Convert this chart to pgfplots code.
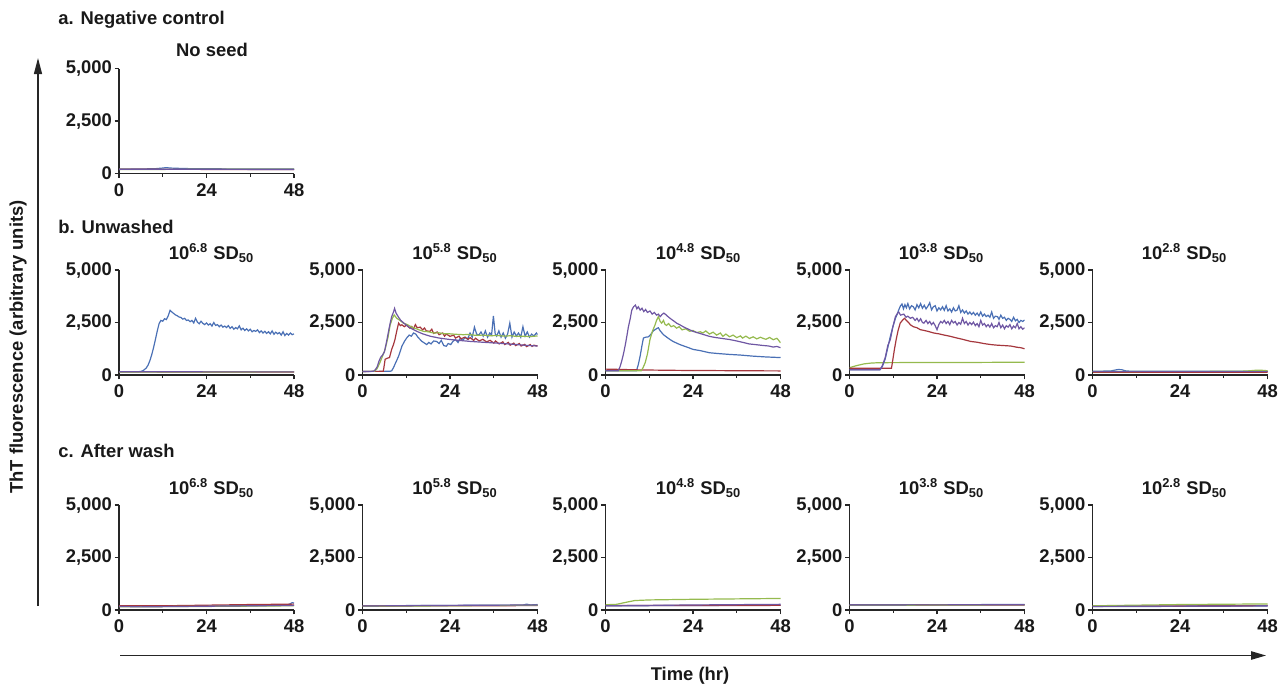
\documentclass[border=0pt]{standalone}
\usepackage{fontspec}
\setmainfont{Liberation Sans}
\usepackage{pgfplots}
\pgfplotsset{compat=1.18}
\usetikzlibrary{arrows.meta}

\definecolor{cB}{HTML}{4A70B5}
\definecolor{cR}{HTML}{A5373D}
\definecolor{cG}{HTML}{95BA4E}
\definecolor{cP}{HTML}{6F57A3}

\pgfplotsset{
  panel/.style={
    scale only axis, width=87.5pt, height=52.5pt, anchor=south west,
    xmin=0, xmax=48, ymin=0, ymax=5000,
    axis lines*=left,
    xtick={0,24,48}, xticklabels={0,24,48},
    minor xtick={12,36},
    ytick={0,2500,5000}, yticklabels={0,{2,500},{5,000}},
    tick align=outside, major tick length=2.2pt, minor tick length=1.5pt,
    axis line style={line width=0.7pt, black!85},
    every tick/.style={line width=0.6pt, black!85},
    tick label style={font=\bfseries\fontsize{9.2}{10}\selectfont, black!90},
    yticklabel style={xshift=2.2pt},
    xticklabel style={yshift=0.8pt},
    every axis plot/.append style={line width=0.6pt, mark=none},
  },
}

\begin{document}
\begin{tikzpicture}
\path[use as bounding box] (0,0) rectangle (640pt,-342.5pt);

% ---- a. negative control
\begin{axis}[panel, at={(59.5pt,-86.75pt)}]
\addplot[cB] coordinates {(0,210)(6,215)(10,230)(12,260)(13,280)(14,260)(18,235)(24,225)(36,215)(48,210)};
\addplot[cR] coordinates {(0,200)(24,195)(48,190)};
\addplot[cG] coordinates {(0,190)(24,200)(48,205)};
\addplot[cP] coordinates {(0,195)(12,205)(24,200)(36,195)(48,195)};
\end{axis}

% ---- b. unwashed, 10^6.8
\begin{axis}[panel, at={(59.5pt,-187.5pt)}]
\addplot[cB] coordinates {(0,150)(1,150)(2,155)(3,150)(4,150)(5,155)(5.5,160)(6,170)(6.5,200)(7,260)(7.5,340)(8,480)(8.5,700)(9,980)(9.5,1320)(10,1700)(10.5,2100)(11,2450)(11.5,2600)(12,2560)(12.5,2680)(13,2640)(13.5,2820)(14,3080)(14.5,3000)(15,2930)(15.5,2860)(16,2820)(16.5,2760)(17,2740)(17.5,2660)(18,2700)(18.5,2600)(19,2620)(19.5,2540)(20,2600)(20.5,2480)(21,2700)(21.5,2520)(22,2440)(22.5,2560)(23,2460)(23.5,2400)(24,2480)(24.5,2380)(25,2440)(25.5,2330)(26,2500)(26.5,2360)(27,2400)(27.5,2300)(28,2380)(28.5,2280)(29,2330)(29.5,2260)(30,2350)(30.5,2220)(31,2300)(31.5,2180)(32,2260)(32.5,2200)(33,2340)(33.5,2150)(34,2230)(34.5,2120)(35,2200)(35.5,2100)(36,2180)(36.5,2060)(37,2120)(37.5,2080)(38,2150)(38.5,2020)(39,2100)(39.5,2000)(40,2080)(40.5,1980)(41,2060)(41.5,1960)(42,2100)(42.5,1940)(43,2040)(43.5,1960)(44,2020)(44.5,1900)(45,2060)(45.5,1880)(46,1980)(46.5,1900)(47,2000)(47.5,1920)(48,1960)};
\addplot[cR] coordinates {(0,150)(24,145)(48,145)};
\addplot[cG] coordinates {(0,140)(24,145)(48,150)};
\addplot[cP] coordinates {(0,155)(24,150)(48,150)};
\end{axis}

% ---- b. unwashed, 10^5.8
\begin{axis}[panel, at={(181.25pt,-187.5pt)}]
\addplot[cB] coordinates {(0,170)(7.5,175)(8,200)(8.5,350)(8.9,510)(9.4,700)(9.9,900)(10.4,1150)(10.8,1370)(11.5,1600)(12.1,1760)(12.8,1900)(13.4,1850)(14,2000)(14.6,1950)(15.2,1800)(15.8,1690)(16.3,1600)(17,1520)(17.6,1450)(18.2,1550)(18.8,1480)(19.5,1620)(20.3,1600)(21,1500)(21.6,1650)(22.3,1400)(23,1370)(23.5,1500)(24.2,1450)(24.8,1600)(25.5,1690)(26.2,1550)(26.8,1750)(27.5,1650)(28.2,1800)(28.8,1700)(29.5,2000)(30.1,1800)(30.7,2280)(31.3,1950)(31.9,1900)(32.5,2050)(33.1,1850)(33.7,2100)(34.3,1800)(34.9,2000)(35.4,1900)(35.9,2810)(36.4,1950)(36.8,1850)(37.4,2100)(38,1800)(38.6,2000)(39.2,1750)(39.8,1950)(40.4,2470)(41,1800)(41.6,2050)(42.2,1850)(42.8,2000)(43.4,1800)(44,2300)(44.6,1850)(45.2,2050)(45.8,1800)(46.4,1950)(47,1850)(47.7,2000)(48,1920)};
\addplot[cR] coordinates {(0,170)(5.7,175)(6.0,500)(6.2,750)(6.8,800)(7.4,830)(8,1220)(8.5,1450)(8.9,1690)(9.4,2100)(9.9,2470)(10.4,2350)(10.8,2390)(11.5,2300)(12,2380)(13,2230)(13.5,2310)(14,2200)(14.5,2400)(15,2250)(15.8,2280)(16.5,2150)(17,2240)(17.5,2100)(18.5,2080)(19,2180)(19.5,1980)(20.5,2050)(21,1920)(22,2000)(22.5,1850)(23,1950)(24,1840)(25,1900)(25.5,1760)(26.5,1850)(27,1720)(28,1800)(29,1700)(29.5,1780)(30.5,1650)(31,1750)(32,1620)(33,1700)(34,1580)(35,1650)(36,1520)(36.5,1620)(37.5,1480)(38.5,1580)(39,1450)(40,1550)(40.5,1420)(41.5,1520)(42,1400)(43,1500)(43.5,1380)(44.5,1460)(45,1350)(46,1450)(46.5,1360)(47,1420)(48,1380)};
\addplot[cG] coordinates {(0,170)(3.3,175)(4,300)(4.8,600)(5.5,900)(6.2,1220)(7,1800)(7.6,2390)(8.2,2700)(8.7,2860)(9.4,2700)(10.3,2600)(11.2,2470)(12.3,2400)(13.5,2280)(14.5,2220)(15.5,2150)(16.7,2080)(18,2060)(19.5,2000)(21,2010)(22.2,1970)(24,1960)(25.5,1940)(27.6,1920)(29,1930)(31,1890)(33,1900)(35,1870)(37,1880)(39,1850)(40.5,1870)(42.2,1840)(44,1850)(46,1830)(48,1860)};
\addplot[cP] coordinates {(0,170)(3,175)(3.5,250)(4,380)(4.5,650)(5,850)(5.5,950)(6,1100)(6.5,1500)(7,1950)(7.5,2400)(8,2780)(8.5,3000)(8.8,3170)(9.2,2950)(9.9,2750)(10.5,2600)(11.7,2420)(13,2250)(14.9,2080)(16.5,1960)(18.5,1850)(21,1760)(24,1690)(27,1640)(29.5,1600)(33,1560)(36.8,1520)(40,1480)(42.2,1450)(45,1410)(48,1380)};
\end{axis}

% ---- b. unwashed, 10^4.8
\begin{axis}[panel, at={(302.75pt,-187.5pt)}]
\addplot[cB] coordinates {(0,200)(8.5,205)(9,500)(9.5,900)(10,1400)(10.4,1760)(11,1800)(11.8,1820)(12.5,1950)(13.1,2100)(13.6,2160)(14.2,2230)(14.5,2250)(15,2100)(15.9,1920)(16.8,1800)(17.7,1690)(18.5,1600)(19.5,1520)(20.4,1450)(21.5,1380)(22.8,1300)(24,1220)(26,1160)(28.5,1060)(31,1020)(34,980)(37,950)(40.3,900)(44,860)(48,830)};
\addplot[cR] coordinates {(0,280)(3,270)(10,240)(20,220)(30,210)(40,200)(48,195)};
\addplot[cG] coordinates {(0,200)(9.8,205)(10.3,350)(10.9,590)(11.5,1000)(12.2,1690)(12.9,2100)(13.6,2390)(14,2600)(14.5,2780)(15,2550)(15.4,2470)(15.9,2600)(16.3,2420)(16.7,2360)(17.3,2450)(18,2300)(18.7,2350)(19.5,2230)(20.2,2300)(21,2150)(22,2200)(23.1,2080)(24,2120)(25,2020)(26,2060)(26.7,2000)(27.5,2100)(28.5,1950)(29.5,2040)(30.5,1900)(31.5,2000)(32.2,1840)(33,1950)(34,1820)(35,1900)(36,1780)(37,1860)(37.6,1760)(38.5,1850)(39.5,1740)(40.5,1820)(41.5,1720)(42.5,1800)(43,1760)(44,1700)(45,1790)(46,1680)(47,1750)(47.5,1650)(48,1530)};
\addplot[cP] coordinates {(0,200)(3.5,205)(4,400)(4.5,700)(5,1060)(5.5,1500)(6,2000)(6.3,2310)(6.8,2700)(7.2,3090)(7.7,3250)(8.2,3330)(8.6,3150)(9,3250)(9.5,3090)(10,3180)(10.5,3020)(11,3120)(11.5,2980)(12.2,3050)(12.8,2900)(13.4,2980)(14,2850)(14.5,2900)(15,2780)(15.5,2880)(16,2950)(16.5,2880)(17,2800)(17.7,2700)(18.5,2600)(19.5,2470)(20.4,2390)(21.5,2280)(22.5,2200)(24,2080)(25.5,2000)(27,1920)(28.5,1840)(30,1790)(32,1740)(34,1690)(36,1620)(37.5,1560)(39.4,1480)(41,1450)(43,1410)(44.8,1380)(46,1330)(47,1360)(48,1300)};
\end{axis}

% ---- b. unwashed, 10^3.8
\begin{axis}[panel, at={(424.75pt,-187.5pt)}]
\addplot[cG] coordinates {(0,350)(2,450)(4,530)(6,570)(8,585)(12,590)(24,595)(36,600)(48,610)};
\addplot[cR] coordinates {(0,320)(11.5,320)(11.7,520)(12.3,1200)(12.8,1690)(13.3,2100)(13.9,2470)(14.5,2600)(15.1,2700)(15.6,2600)(16.2,2500)(16.7,2390)(17.5,2300)(18.5,2250)(19.4,2160)(20.5,2120)(21.5,2080)(23.1,2000)(24.5,1960)(26,1900)(27.7,1840)(29,1780)(31,1700)(33.2,1600)(35,1560)(36.8,1500)(38.7,1450)(40.5,1420)(42.5,1400)(44.2,1380)(46,1320)(47,1300)(48,1250)};
\addplot[cB] coordinates {(0,250)(8.4,255)(9,400)(9.8,770)(10.5,1300)(11.2,1840)(11.9,2300)(12.6,2700)(13.1,2900)(13.5,3100)(14,3300)(14.4,3380)(14.8,3150)(15.2,3350)(15.6,3200)(16,3400)(16.5,3150)(17,3300)(17.5,3250)(18,3100)(18.5,3350)(19,3200)(19.5,3400)(20,3180)(20.5,3320)(21,3150)(21.5,3280)(22,3440)(22.5,3100)(23,3250)(23.5,3300)(24,3050)(24.5,3200)(25,3100)(25.5,3250)(26,3080)(26.5,3300)(27,3050)(27.5,3150)(28,3000)(28.5,3200)(29,3050)(29.5,3090)(30,3300)(30.5,2980)(31,3100)(31.5,2950)(32,3050)(32.5,2900)(33,3000)(33.5,2880)(34,2980)(34.5,2850)(35,2950)(35.5,2820)(36,3000)(36.5,2800)(37,2900)(37.5,2780)(38,2850)(38.5,2750)(39,3000)(39.5,2700)(40,2800)(40.6,2780)(41,2650)(41.5,2850)(42,2700)(42.5,2750)(43,2600)(43.5,2700)(44,2650)(44.5,2550)(45,2750)(45.5,2580)(46,2650)(46.5,2500)(47,2600)(47.5,2550)(48,2620)};
\addplot[cP] coordinates {(0,250)(8.4,255)(9,450)(9.8,830)(10.5,1400)(11.2,1690)(11.9,2300)(12.6,2780)(13.2,2950)(13.5,3000)(14,2850)(14.9,2900)(15.5,2750)(16,2800)(16.7,2700)(17.3,2750)(18,2600)(18.5,2700)(19,2550)(19.5,2680)(20,2500)(20.4,2470)(21,2600)(21.5,2450)(22,2550)(22.5,2400)(23,2500)(23.5,2350)(24,2160)(24.5,2400)(25,2550)(25.5,2480)(26,2600)(26.5,2450)(27,2550)(27.5,2400)(28,2600)(28.5,2480)(29,2550)(29.5,2380)(30,2500)(30.5,2420)(31,2700)(31.5,2450)(32,2550)(32.5,2380)(33,2500)(33.5,2400)(34,2520)(34.5,2350)(35,2450)(35.5,2300)(36,2600)(36.5,2380)(37,2450)(37.5,2300)(38,2400)(38.5,2280)(39,2450)(39.5,2250)(40,2350)(40.5,2300)(41,2500)(41.5,2250)(42,2380)(42.5,2200)(43,2350)(43.5,2280)(44,2400)(44.5,2200)(45,2330)(45.5,2250)(46,2450)(46.5,2200)(47,2300)(47.5,2180)(48,2250)};
\end{axis}

% ---- b. unwashed, 10^2.8
\begin{axis}[panel, at={(546.25pt,-187.5pt)}]
\addplot[cB] coordinates {(0,180)(5,190)(6,230)(7,260)(8,255)(9,200)(10,185)(24,180)(48,180)};
\addplot[cR] coordinates {(0,140)(48,140)};
\addplot[cG] coordinates {(0,170)(40,175)(43,200)(45,230)(47,220)(48,200)};
\addplot[cP] coordinates {(0,150)(24,150)(48,150)};
\end{axis}

% ---- c. after wash
\begin{axis}[panel, at={(59.5pt,-305pt)}]
\addplot[cB] coordinates {(0,180)(24,190)(40,210)(46,230)(47,300)(47.5,350)(48,330)};
\addplot[cR] coordinates {(0,200)(12,200)(24,230)(36,260)(48,280)};
\addplot[cG] coordinates {(0,150)(24,170)(48,200)};
\addplot[cP] coordinates {(0,170)(6,150)(24,180)(48,220)};
\end{axis}
\begin{axis}[panel, at={(181.25pt,-305pt)}]
\addplot[cB] coordinates {(0,200)(24,220)(44,230)(45,280)(46,240)(48,260)};
\addplot[cR] coordinates {(0,190)(48,210)};
\addplot[cG] coordinates {(0,180)(24,200)(48,230)};
\addplot[cP] coordinates {(0,190)(24,220)(48,240)};
\end{axis}
\begin{axis}[panel, at={(302.75pt,-305pt)}]
\addplot[cB] coordinates {(0,200)(48,230)};
\addplot[cR] coordinates {(0,210)(48,220)};
\addplot[cG] coordinates {(0,250)(3,270)(6,380)(8,450)(12,480)(20,500)(24,510)(36,530)(48,550)};
\addplot[cP] coordinates {(0,200)(24,240)(48,270)};
\end{axis}
\begin{axis}[panel, at={(424.75pt,-305pt)}]
\addplot[cB] coordinates {(0,250)(48,260)};
\addplot[cR] coordinates {(0,230)(48,240)};
\addplot[cG] coordinates {(0,220)(48,250)};
\addplot[cP] coordinates {(0,240)(48,250)};
\end{axis}
\begin{axis}[panel, at={(546.25pt,-305pt)}]
\addplot[cB] coordinates {(0,160)(48,190)};
\addplot[cR] coordinates {(0,180)(48,210)};
\addplot[cG] coordinates {(0,200)(24,260)(48,290)};
\addplot[cP] coordinates {(0,170)(48,200)};
\end{axis}

% ---- labels, titles and arrows (pixel grid, 1px = 0.5pt)
\begin{scope}[x=0.5pt, y=-0.5pt, font=\bfseries\fontsize{9.2}{10}\selectfont, text=black!90]
\node[anchor=west, inner sep=0pt] at (58,20) {a. Negative control};
\node[anchor=west, inner sep=0pt] at (58,227) {b. Unwashed};
\node[anchor=west, inner sep=0pt] at (58,451) {c. After wash};
\node[inner sep=0pt] at (212,50) {No seed};
\foreach \yy in {253,488} {
  \node[inner sep=0pt] at (211.5,\yy) {10\textsuperscript{6.8} SD\textsubscript{50}};
  \node[inner sep=0pt] at (455,\yy) {10\textsuperscript{5.8} SD\textsubscript{50}};
  \node[inner sep=0pt] at (698.5,\yy) {10\textsuperscript{4.8} SD\textsubscript{50}};
  \node[inner sep=0pt] at (941.5,\yy) {10\textsuperscript{3.8} SD\textsubscript{50}};
  \node[inner sep=0pt] at (1184.5,\yy) {10\textsuperscript{2.8} SD\textsubscript{50}};
}
\draw[line width=0.6pt, black!85, -{Triangle[length=8pt,width=4pt]}] (38,606) -- (38,58);
\draw[line width=0.6pt, black!85, -{Triangle[length=7.5pt,width=4.2pt]}] (120,655.5) -- (1266,655.5);
\node[rotate=90, inner sep=0pt] at (18,347) {ThT fluorescence (arbitrary units)};
\node[inner sep=0pt] at (690,676) {Time (hr)};
\end{scope}
\end{tikzpicture}
\end{document}
